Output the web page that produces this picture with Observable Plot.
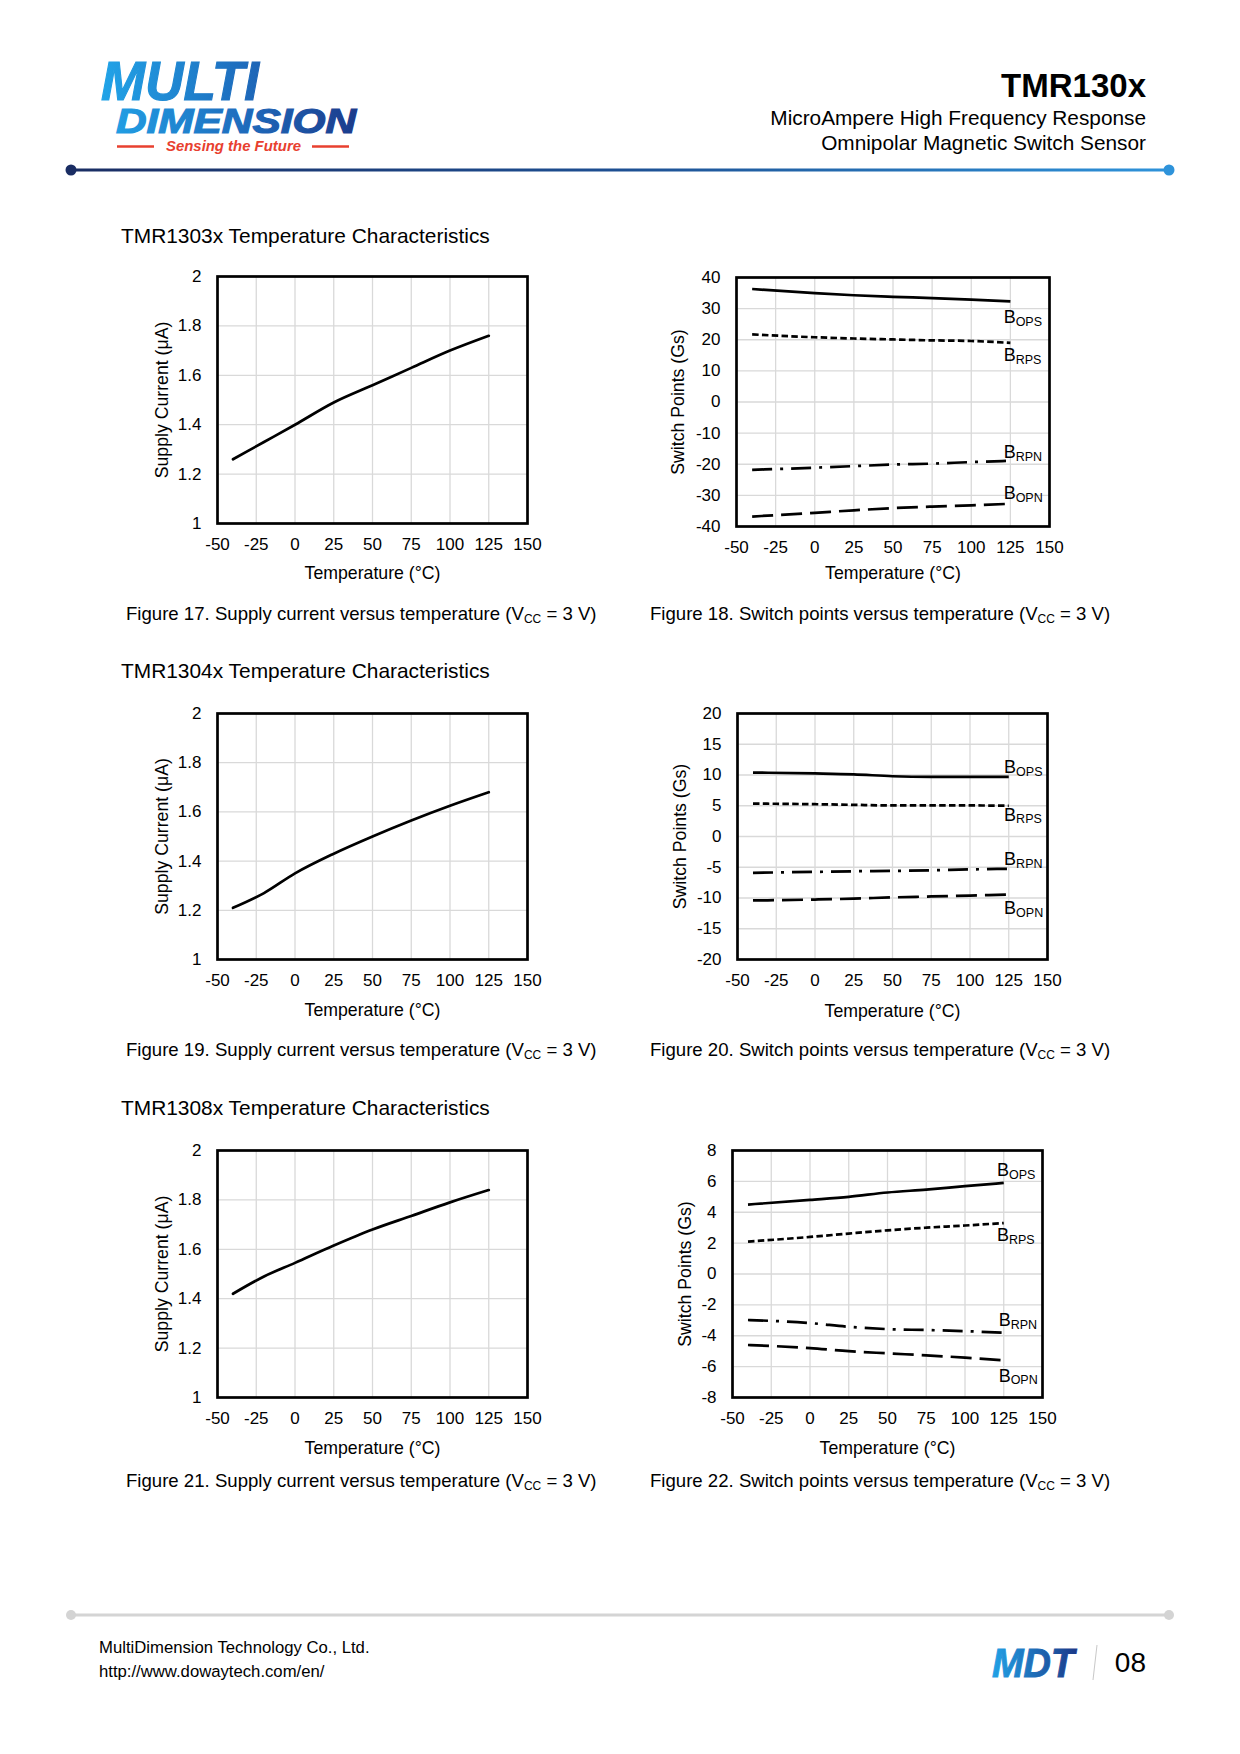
<!DOCTYPE html>
<html><head><meta charset="utf-8">
<script src="https://cdn.jsdelivr.net/npm/d3@7"></script>
<script src="https://cdn.jsdelivr.net/npm/@observablehq/plot@0.6"></script>
<style>
html,body{margin:0;padding:0;background:#fff;}
#page{position:relative;width:1240px;height:1754px;overflow:hidden;background:#fff;font-family:"Liberation Sans",Arial,Helvetica,sans-serif;}
#bg{position:absolute;left:0;top:0;}
.chart{position:absolute;}
</style></head><body>
<div id="page">
<svg id="bg" width="1240" height="1754" viewBox="0 0 1240 1754" font-family="Liberation Sans, Arial, Helvetica, sans-serif">
  <defs>
    <linearGradient id="hdrLine" gradientUnits="userSpaceOnUse" x1="71" y1="0" x2="1169" y2="0">
      <stop offset="0" stop-color="#1a2d63"/><stop offset="0.5" stop-color="#1d4f92"/><stop offset="1" stop-color="#2e93da"/>
    </linearGradient>
    <linearGradient id="logoGrad" gradientUnits="userSpaceOnUse" x1="100" y1="0" x2="360" y2="0">
      <stop offset="0" stop-color="#21a4e8"/><stop offset="0.55" stop-color="#1e6cbd"/><stop offset="1" stop-color="#1b3a8a"/>
    </linearGradient>
    <linearGradient id="mdtGrad" gradientUnits="userSpaceOnUse" x1="990" y1="0" x2="1076" y2="0">
      <stop offset="0" stop-color="#21a4e8"/><stop offset="1" stop-color="#1b3a8a"/>
    </linearGradient>
  </defs>
  <!-- logo -->
  <text font-weight="bold" font-style="italic" fill="url(#logoGrad)" stroke="url(#logoGrad)" stroke-width="1.2"><tspan x="101" y="100" font-size="56" textLength="158" lengthAdjust="spacingAndGlyphs">MULTI</tspan><tspan x="116" y="133" font-size="35" textLength="240" lengthAdjust="spacingAndGlyphs">DIMENSION</tspan><tspan x="166" y="151" font-size="14" fill="#e8402f" stroke="none" textLength="135" lengthAdjust="spacingAndGlyphs">Sensing the Future</tspan></text>
  <line x1="117" y1="146.5" x2="154" y2="146.5" stroke="#e8402f" stroke-width="2.5"/>
  <line x1="312" y1="146.5" x2="349" y2="146.5" stroke="#e8402f" stroke-width="2.5"/>
  <!-- header text -->
  <text x="1146" y="96.5" font-size="33" font-weight="bold" text-anchor="end" fill="#000">TMR130x</text>
  <text x="1146" y="125" font-size="20.8" text-anchor="end" fill="#000">MicroAmpere High Frequency Response</text>
  <text x="1146" y="150" font-size="20.8" text-anchor="end" fill="#000">Omnipolar Magnetic Switch Sensor</text>
  <line x1="71" y1="170" x2="1169" y2="170" stroke="url(#hdrLine)" stroke-width="3"/>
  <circle cx="71" cy="170" r="5.5" fill="#1a2d63"/>
  <circle cx="1169" cy="170" r="5.5" fill="#2e93da"/>
  <!-- section titles -->
  <text x="121" y="243" font-size="20.9" fill="#000">TMR1303x Temperature Characteristics</text>
  <text x="121" y="678" font-size="20.9" fill="#000">TMR1304x Temperature Characteristics</text>
  <text x="121" y="1115" font-size="20.9" fill="#000">TMR1308x Temperature Characteristics</text>
  <!-- captions -->
  <text x="126" y="619.5" font-size="18.6" fill="#000">Figure 17. Supply current versus temperature (V<tspan font-size="12" dy="3">CC</tspan><tspan dy="-3"> = 3 V)</tspan></text>
  <text x="650" y="619.5" font-size="18.6" fill="#000">Figure 18. Switch points versus temperature (V<tspan font-size="12" dy="3">CC</tspan><tspan dy="-3"> = 3 V)</tspan></text>
  <text x="126" y="1055.5" font-size="18.6" fill="#000">Figure 19. Supply current versus temperature (V<tspan font-size="12" dy="3">CC</tspan><tspan dy="-3"> = 3 V)</tspan></text>
  <text x="650" y="1055.5" font-size="18.6" fill="#000">Figure 20. Switch points versus temperature (V<tspan font-size="12" dy="3">CC</tspan><tspan dy="-3"> = 3 V)</tspan></text>
  <text x="126" y="1486.5" font-size="18.6" fill="#000">Figure 21. Supply current versus temperature (V<tspan font-size="12" dy="3">CC</tspan><tspan dy="-3"> = 3 V)</tspan></text>
  <text x="650" y="1486.5" font-size="18.6" fill="#000">Figure 22. Switch points versus temperature (V<tspan font-size="12" dy="3">CC</tspan><tspan dy="-3"> = 3 V)</tspan></text>
  <!-- footer -->
  <line x1="71" y1="1615" x2="1169" y2="1615" stroke="#d4d4d4" stroke-width="3"/>
  <circle cx="71" cy="1615" r="5" fill="#d4d4d4"/>
  <circle cx="1169" cy="1615" r="5" fill="#d4d4d4"/>
  <text x="99" y="1653" font-size="16.7" fill="#000">MultiDimension Technology Co., Ltd.</text>
  <text x="99" y="1677" font-size="16.7" fill="#000">http://www.dowaytech.com/en/</text>
  <text x="992" y="1677" font-size="40" font-weight="bold" font-style="italic" fill="url(#mdtGrad)" stroke="url(#mdtGrad)" stroke-width="1" textLength="82" lengthAdjust="spacingAndGlyphs">MDT</text>
  <line x1="1097" y1="1645" x2="1093" y2="1680" stroke="#c8c8c8" stroke-width="1"/>
  <text x="1146" y="1672" font-size="28" text-anchor="end" fill="#000">08</text>
</svg>
</div>
<script>
// ---------- data ----------
const xTicks = [-50, -25, 0, 25, 50, 75, 100, 125, 150];
const yTicksCurrent = [1, 1.2, 1.4, 1.6, 1.8, 2];
const yTicks1303 = [-40, -30, -20, -10, 0, 10, 20, 30, 40];
const yTicks1304 = [-20, -15, -10, -5, 0, 5, 10, 15, 20];
const yTicks1308 = [-8, -6, -4, -2, 0, 2, 4, 6, 8];
const xTitle = "Temperature (°C)";
const yTitleCurrent = "Supply Current (μA)";
const yTitleSwitch = "Switch Points (Gs)";

// supply current (µA) vs temperature
const tempCurrent = [-40, -20, 0, 25, 50, 75, 100, 125];
const current1303 = [1.26, 1.33, 1.40, 1.49, 1.56, 1.63, 1.70, 1.76];
const current1304 = [1.21, 1.27, 1.35, 1.43, 1.50, 1.565, 1.625, 1.68];
const current1308 = [1.42, 1.49, 1.545, 1.615, 1.68, 1.735, 1.79, 1.84];

// switch points (Gs) vs temperature
const tempSwitch = [-40, 0, 25, 50, 75, 100, 125];
const seriesSub = ["OPS", "RPS", "RPN", "OPN"];

const bops1303 = [36.3, 35.0, 34.3, 33.8, 33.4, 32.9, 32.3];
const brps1303 = [21.7, 20.8, 20.4, 20.1, 19.8, 19.6, 19.0];
const brpn1303 = [-21.8, -21.1, -20.6, -20.1, -19.8, -19.3, -18.9];
const bopn1303 = [-36.8, -35.6, -34.8, -34.1, -33.6, -33.2, -32.7];

const bops1304 = [10.4, 10.25, 10.1, 9.8, 9.7, 9.7, 9.7];
const brps1304 = [5.35, 5.25, 5.15, 5.05, 5.05, 5.05, 5.0];
const brpn1304 = [-5.9, -5.75, -5.65, -5.6, -5.5, -5.35, -5.25];
const bopn1304 = [-10.4, -10.25, -10.1, -9.9, -9.75, -9.6, -9.45];

const bops1308 = [4.5, 4.8, 5.0, 5.28, 5.47, 5.69, 5.9];
const brps1308 = [2.1, 2.4, 2.62, 2.83, 3.0, 3.14, 3.3];
const brpn1308 = [-2.98, -3.18, -3.42, -3.57, -3.63, -3.7, -3.81];
const bopn1308 = [-4.6, -4.8, -5.0, -5.14, -5.27, -5.42, -5.6];

// series label anchors (temperature, Gs)
const labelX1303 = [120.7, 120.7, 120.7, 120.7];
const labelY1303 = [27.2, 14.9, -16.1, -29.3];
const labelX1304 = [122, 122, 122, 122];
const labelY1304 = [11.3, 3.5, -3.7, -11.7];
const labelX1308 = [120.6, 120.6, 121.7, 121.7];
const labelY1308 = [6.7, 2.5, -3.0, -6.6];

// ---------- drawing ----------
const FONT = '"Liberation Sans", Arial, Helvetica, sans-serif';
const page = document.getElementById("page");
const dashes = [null, "6.5,3.3", "20,8,3,8", "21,8"];
const GRID = {stroke: "#d9d9d9", strokeOpacity: 1, strokeWidth: 1.3};

function place(svg, left, top) {
  svg.classList.add("chart");
  svg.style.position = "absolute";
  svg.style.left = left + "px";
  svg.style.top = top + "px";
  page.appendChild(svg);
}

function chart(cfg, dataMarks) {
  return Plot.plot({
    width: cfg.width, height: cfg.height,
    marginLeft: cfg.mL, marginRight: cfg.mR, marginTop: cfg.mT, marginBottom: cfg.mB,
    style: {fontFamily: FONT, fontSize: "17px", color: "#000", background: "transparent", overflow: "visible"},
    x: {domain: [-50, 150]},
    y: {domain: [cfg.yTicks[0], cfg.yTicks[cfg.yTicks.length - 1]]},
    marks: [
      Plot.gridX(xTicks, GRID),
      Plot.gridY(cfg.yTicks, GRID),
      Plot.axisX(xTicks, {tickSize: 0, tickPadding: 14, tickFormat: d => String(d), label: null, fontSize: 17}),
      Plot.axisY(cfg.yTicks, {tickSize: 0, tickPadding: 16, tickFormat: d => String(d), label: null, fontSize: 17}),
      Plot.text([xTitle], {text: d => d, frameAnchor: "bottom", dy: cfg.xTitleDy, textAnchor: "middle", lineAnchor: "middle", fontSize: 17.7, fill: "#000"}),
      Plot.text([cfg.yTitle], {text: d => d, frameAnchor: "left", dx: cfg.yTitleDx, rotate: -90, textAnchor: "middle", lineAnchor: "middle", fontSize: 17.7, fill: "#000"}),
      ...dataMarks,
      Plot.frame({stroke: "#000", strokeWidth: 2.7})
    ]
  });
}

function currentChart(cfg, values) {
  const data = tempCurrent.map((t, i) => ({t, v: values[i]}));
  const svg = chart({...cfg, yTicks: yTicksCurrent, yTitle: yTitleCurrent}, [
    Plot.line(data, {x: "t", y: "v", stroke: "#000", strokeWidth: 2.7, curve: "monotone-x"})
  ]);
  place(svg, cfg.left, cfg.top);
}

function switchChart(cfg, series, labelX, labelY) {
  const marks = [];
  series.forEach((vals, i) => {
    const data = tempSwitch.map((t, j) => ({t, v: vals[j]}));
    const opts = {x: "t", y: "v", stroke: "#000", strokeWidth: 2.7, strokeLinecap: "butt", curve: "monotone-x"};
    if (dashes[i]) opts.strokeDasharray = dashes[i];
    marks.push(Plot.line(data, opts));
    const lab = [{x: labelX[i], y: labelY[i], sub: seriesSub[i]}];
    marks.push(Plot.text(lab, {x: "x", y: "y", text: () => "B", textAnchor: "start", fontSize: 18, fill: "#000"}));
    marks.push(Plot.text(lab, {x: "x", y: "y", text: "sub", textAnchor: "start", fontSize: 12.5, dx: 12, dy: 4.5, fill: "#000"}));
  });
  const svg = chart({...cfg, yTitle: yTitleSwitch}, marks);
  place(svg, cfg.left, cfg.top);
}

currentChart({left: 130, top: 260, width: 420, height: 330, mL: 87, mR: 23, mT: 16, mB: 67, xTitleDy: 50, yTitleDx: -55}, current1303);
currentChart({left: 130, top: 696, width: 420, height: 330, mL: 87, mR: 23, mT: 17, mB: 67, xTitleDy: 51, yTitleDx: -55}, current1304);
currentChart({left: 130, top: 1133, width: 420, height: 330, mL: 87, mR: 23, mT: 17, mB: 66, xTitleDy: 51, yTitleDx: -55}, current1308);

switchChart({left: 650, top: 260, width: 420, height: 330, mL: 86, mR: 21, mT: 17, mB: 64, yTicks: yTicks1303, xTitleDy: 47, yTitleDx: -58},
  [bops1303, brps1303, brpn1303, bopn1303], labelX1303, labelY1303);
switchChart({left: 650, top: 696, width: 420, height: 330, mL: 87, mR: 23, mT: 17, mB: 67, yTicks: yTicks1304, xTitleDy: 52, yTitleDx: -57},
  [bops1304, brps1304, brpn1304, bopn1304], labelX1304, labelY1304);
switchChart({left: 650, top: 1133, width: 420, height: 330, mL: 82, mR: 28, mT: 17, mB: 66, yTicks: yTicks1308, xTitleDy: 51, yTitleDx: -47},
  [bops1308, brps1308, brpn1308, bopn1308], labelX1308, labelY1308);
</script>
</body></html>
